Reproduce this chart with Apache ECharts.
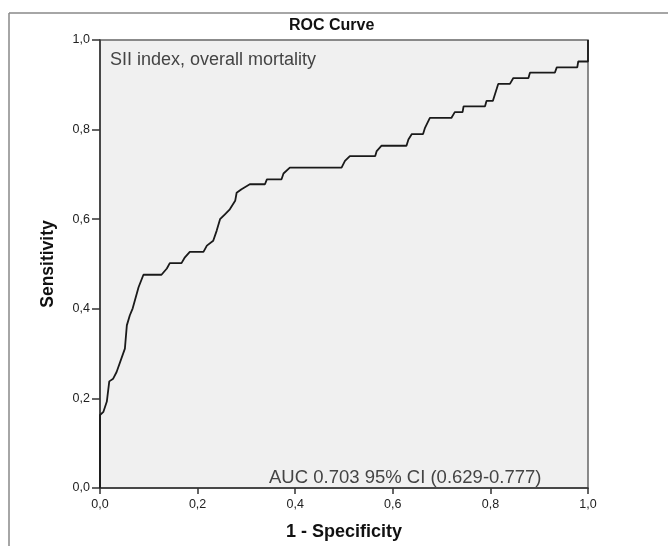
<!DOCTYPE html>
<html>
<head>
<meta charset="utf-8">
<script src="https://cdn.jsdelivr.net/npm/echarts@6/dist/echarts.min.js"></script>
<style>html,body{margin:0;padding:0;background:#fff}#c{width:668px;height:546px}</style>
</head>
<body>
<div id="c"></div>
<script>
var titleText = 'ROC Curve';
var xAxisName = '1 - Specificity';
var yAxisName = 'Sensitivity';
var subtitleText = 'SII index, overall mortality';
var aucText = 'AUC 0.703 95% CI (0.629-0.777)';
var xTickLabels = ['0,0','0,2','0,4','0,6','0,8','1,0'];
var yTickLabels = ['0,0','0,2','0,4','0,6','0,8','1,0'];
var fpr = [0,0,0,0.007,0.014,0.019,0.027,0.034,0.051,0.055,0.061,0.067,0.079,0.089,0.126,0.137,0.143,0.167,0.174,0.184,0.212,0.219,0.232,0.239,0.246,0.256,0.266,0.277,0.28,0.29,0.307,0.338,0.342,0.372,0.376,0.389,0.495,0.502,0.512,0.564,0.567,0.577,0.628,0.632,0.639,0.662,0.666,0.676,0.72,0.727,0.743,0.745,0.789,0.792,0.805,0.816,0.84,0.847,0.878,0.881,0.932,0.936,0.978,0.98,1,1];
var tpr = [0,0.1,0.163,0.17,0.193,0.238,0.244,0.259,0.311,0.363,0.385,0.401,0.448,0.476,0.476,0.49,0.502,0.502,0.515,0.527,0.527,0.541,0.552,0.574,0.6,0.611,0.622,0.641,0.659,0.667,0.678,0.678,0.689,0.689,0.702,0.715,0.715,0.73,0.741,0.741,0.752,0.764,0.764,0.778,0.79,0.79,0.804,0.826,0.826,0.839,0.839,0.852,0.852,0.864,0.864,0.902,0.902,0.915,0.915,0.927,0.927,0.939,0.939,0.952,0.952,1];

var pts = fpr.map(function(x,i){return [x,tpr[i]];});
var font = '"Liberation Sans", Arial, sans-serif';
var chart = echarts.init(document.getElementById('c'), null, {renderer:'canvas'});
chart.setOption({
  animation:false,
  backgroundColor:'#fff',
  title:{text:titleText,left:284,top:13,textStyle:{fontFamily:font,fontSize:16,fontWeight:'bold',color:'#111'}},
  grid:{left:100,top:40,width:488,height:450,show:true,backgroundColor:'#f0f0f0',borderColor:'#666',borderWidth:1.5},
  xAxis:{type:'value',min:0,max:1,interval:0.2,
    name:xAxisName,nameLocation:'middle',nameGap:35,
    nameTextStyle:{fontFamily:font,fontSize:18,fontWeight:'bold',color:'#111'},
    axisLine:{lineStyle:{color:'#333',width:1.5}},
    axisTick:{length:6,lineStyle:{color:'#333',width:1.5}},
    axisLabel:{fontFamily:font,fontSize:12.5,color:'#222',margin:10,formatter:function(v){return xTickLabels[Math.round(v/0.2)];}},
    splitLine:{show:false}},
  yAxis:{type:'value',min:0,max:1,interval:0.2,
    name:yAxisName,nameLocation:'middle',nameGap:43,
    nameTextStyle:{fontFamily:font,fontSize:17.5,fontWeight:'bold',color:'#111'},
    axisLine:{show:true,lineStyle:{color:'#333',width:1.5}},
    axisTick:{show:true,length:8,lineStyle:{color:'#333',width:1.5}},
    axisLabel:{fontFamily:font,fontSize:12.5,color:'#222',margin:10,formatter:function(v){return yTickLabels[Math.round(v/0.2)];}},
    splitLine:{show:false}},
  series:[{type:'line',data:pts,showSymbol:false,symbol:'none',lineStyle:{color:'#1a1a1a',width:1.8},z:3}],
  graphic:[
    {type:'line',shape:{x1:9,y1:13,x2:668,y2:13},style:{stroke:'#888',lineWidth:1.5}},
    {type:'line',shape:{x1:9,y1:13,x2:9,y2:546},style:{stroke:'#888',lineWidth:1.5}},
    {type:'text',x:110,y:60.5,style:{text:subtitleText,font:'18px '+font,fill:'#444',textVerticalAlign:'middle',verticalAlign:'middle'}},
    {type:'text',x:269,y:478,style:{text:aucText,font:'18.5px '+font,fill:'#444',textVerticalAlign:'middle',verticalAlign:'middle'}}
  ]
});
</script>
</body>
</html>
